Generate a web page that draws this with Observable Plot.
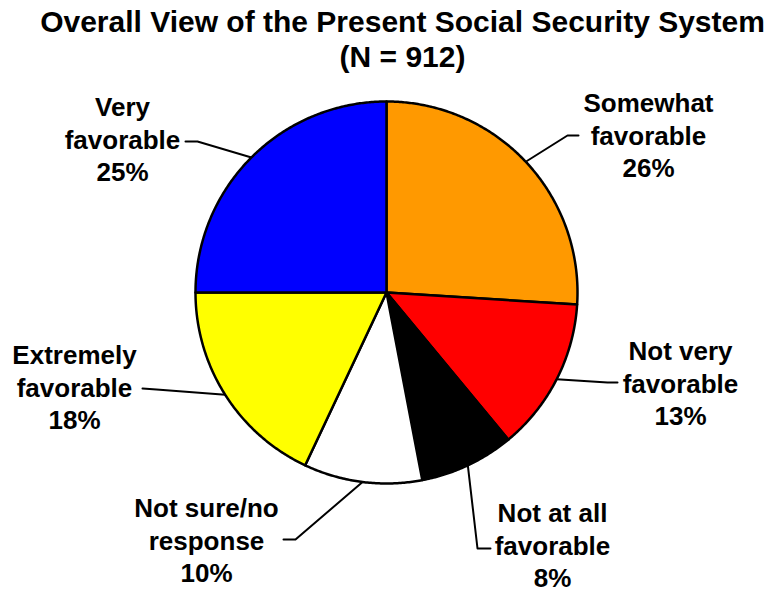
<!DOCTYPE html>
<html>
<head>
<meta charset="utf-8">
<script src="https://cdn.jsdelivr.net/npm/d3@7"></script>
<script src="https://cdn.jsdelivr.net/npm/@observablehq/plot@0.6"></script>
<style>
  html, body { margin: 0; padding: 0; background: #fff; }
  svg { display: block; }
</style>
</head>
<body>
<div id="chart"></div>
<script>
// ---- data ----
const titleLines = ["Overall View of the Present Social Security System", "(N = 912)"];
const categories = ["Somewhat favorable", "Not very favorable", "Not at all favorable", "Not sure/no response", "Extremely favorable", "Very favorable"];
const labelTexts = ["Somewhat\nfavorable", "Not very\nfavorable", "Not at all\nfavorable", "Not sure/no\nresponse", "Extremely\nfavorable", "Very\nfavorable"];
const percents = [26, 13, 8, 10, 18, 25];
const colors = ["#FF9900", "#FF0000", "#000000", "#FFFFFF", "#FFFF00", "#0000FF"];

// ---- layout ----
const W = 774, H = 592;
const pie = {cx: 386, cy: 292, r: 191};
// label block centre + leader elbow + leader end (pixels)
const labelLayout = {
  "Somewhat favorable":   {x: 648, y: 134, elbow: [567, 135], end: [578, 135]},
  "Not very favorable":   {x: 680, y: 382, elbow: [607, 382], end: [617, 382]},
  "Not at all favorable": {x: 552, y: 544, elbow: [477, 548], end: [490, 548]},
  "Not sure/no response": {x: 206, y: 539, elbow: [295, 539], end: [283, 539]},
  "Extremely favorable":  {x: 74,  y: 386, elbow: [156, 389], end: [142, 388]},
  "Very favorable":       {x: 122, y: 138, elbow: [197, 141], end: [185, 141]}
};

const rows = categories.map((c, i) => ({key: c, value: percents[i], color: colors[i], label: labelTexts[i] + "\n" + percents[i] + "%"}));
const arcs = d3.pie().sort(null).value(d => d.value)(rows);

const toXY = (a, rr) => [pie.cx + rr * Math.sin(a), pie.cy - rr * Math.cos(a)];

// slice polygons
const slicePts = [];
arcs.forEach(a => {
  const [x0, y0] = [pie.cx, pie.cy];
  slicePts.push({key: a.data.key, color: a.data.color, x: x0, y: y0});
  const n = Math.max(2, Math.ceil((a.endAngle - a.startAngle) / (Math.PI / 360)));
  for (let k = 0; k <= n; k++) {
    const ang = a.startAngle + (a.endAngle - a.startAngle) * k / n;
    const [x, y] = toXY(ang, pie.r);
    slicePts.push({key: a.data.key, color: a.data.color, x, y});
  }
  slicePts.push({key: a.data.key, color: a.data.color, x: x0, y: y0});
});

// leader lines
const leaderPts = [];
arcs.forEach(a => {
  const mid = (a.startAngle + a.endAngle) / 2;
  const L = labelLayout[a.data.key];
  const [ex, ey] = toXY(mid, pie.r);
  leaderPts.push({key: a.data.key, x: ex, y: ey});
  leaderPts.push({key: a.data.key, x: L.elbow[0], y: L.elbow[1]});
  leaderPts.push({key: a.data.key, x: L.end[0], y: L.end[1]});
});

const labels = arcs.map(a => ({text: a.data.label, x: labelLayout[a.data.key].x, y: labelLayout[a.data.key].y}));

const font = "'Liberation Sans', Arial, Helvetica, sans-serif";

const plot = Plot.plot({
  width: W,
  height: H,
  margin: 0,
  x: {type: "identity", axis: null},
  y: {type: "identity", axis: null},
  style: {fontFamily: font, background: "#fff"},
  marks: [
    Plot.line(leaderPts, {x: "x", y: "y", z: "key", stroke: "#000", strokeWidth: 2, curve: "linear"}),
    Plot.line(slicePts, {x: "x", y: "y", z: "key", fill: d => d.color, stroke: "#000", strokeWidth: 2.5, strokeLinejoin: "round", curve: "linear"}),
    Plot.text(labels, {x: "x", y: "y", text: "text", fontSize: 26, fontWeight: "bold", lineHeight: 1.25, lineAnchor: "middle", textAnchor: "middle", fill: "#000"}),
    Plot.text([titleLines.join("\n")], {x: 402, y: 6, text: d => d, fontSize: 30, fontWeight: "bold", lineHeight: 1.18, lineAnchor: "top", textAnchor: "middle", fill: "#000"})
  ]
});
document.getElementById("chart").appendChild(plot);
</script>
</body>
</html>
